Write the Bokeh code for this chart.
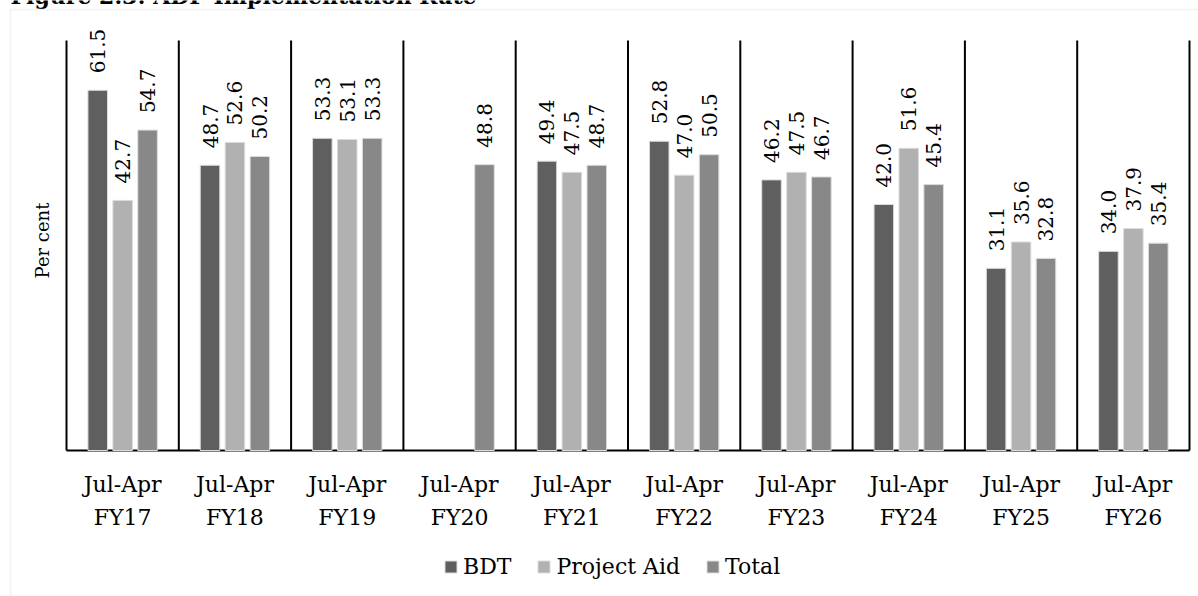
from bokeh.plotting import figure
from bokeh.models import (ColumnDataSource, Range1d, FixedTicker, Legend, LegendItem,
                          Label, PolyAnnotation)
from bokeh.core.properties import value
from bokeh.embed import file_html
from bokeh.resources import INLINE

# ADP implementation rate, July-April of each fiscal year (per cent)
periods = ["FY17", "FY18", "FY19", "FY20", "FY21", "FY22", "FY23", "FY24", "FY25", "FY26"]
tick_labels = ["Jul-Apr\n" + p for p in periods]
bdt = [61.5, 48.7, 53.3, None, 49.4, 52.8, 46.2, 42.0, 31.1, 34.0]
project_aid = [42.7, 52.6, 53.1, None, 47.5, 47.0, 47.5, 51.6, 35.6, 37.9]
total = [54.7, 50.2, 53.3, 48.8, 48.7, 50.5, 46.7, 45.4, 32.8, 35.4]

series = [
    ("BDT", bdt, "#5f5f5f", -0.222),
    ("Project Aid", project_aid, "#b1b1b1", 0.0),
    ("Total", total, "#888888", 0.222),
]

FONT = "DejaVu Serif"
W, H = 1198, 596

# plot area geometry (pixels): category band and value scale
AREA_LEFT, AREA_RIGHT, AREA_BOTTOM = 66, 1189, 450
Y_TOP = 70                      # the value axis runs 0..70
PX_PER_UNIT = 410 / Y_TOP
n = len(periods)
px_per_cat = (AREA_RIGHT - AREA_LEFT) / n

x_range = Range1d(-AREA_LEFT / px_per_cat, (W - AREA_LEFT) / px_per_cat)
y_range = Range1d(-(H - AREA_BOTTOM) / PX_PER_UNIT, AREA_BOTTOM / PX_PER_UNIT)

p = figure(
    width=W, height=H, x_range=x_range, y_range=y_range,
    output_backend="svg", toolbar_location=None,
    min_border=0, min_border_left=0, min_border_right=0, min_border_top=0, min_border_bottom=0,
)
p.xgrid.visible = False
p.ygrid.visible = False
p.outline_line_color = None
p.yaxis.visible = False

# x axis drawn on the zero line: two-line period labels, no ticks
centers = [i + 0.5 for i in range(n)]
p.xaxis.fixed_location = 0
p.xaxis.ticker = FixedTicker(ticks=centers)
p.xaxis.major_label_overrides = {c: lab for c, lab in zip(centers, tick_labels)}
p.xaxis.axis_line_color = None
p.xaxis.major_tick_line_color = None
p.xaxis.minor_tick_line_color = None
p.xaxis.major_label_standoff = 15
p.xaxis.major_label_text_font = FONT
p.xaxis.major_label_text_font_size = "22px"
p.xaxis.major_label_text_line_height = 1.32
p.xaxis.major_label_text_color = "black"

# period separators, left edge and baseline
edges = list(range(n + 1))
p.segment(x0=edges, y0=0, x1=edges, y1=Y_TOP, line_color="black", line_width=2)
p.segment(x0=[0], y0=[0], x1=[n], y1=[0], line_color="black", line_width=2)

legend_items = []
for name, vals, color, off in series:
    idx = [i for i, v in enumerate(vals) if v is not None]
    ys = [vals[i] for i in idx]
    src = ColumnDataSource(dict(x=[i + 0.5 + off for i in idx], top=ys,
                                label=[f"{v:.1f}" for v in ys]))
    r = p.vbar(x="x", top="top", bottom=0, width=0.174, source=src,
               fill_color=color, line_color="#dcdcdc", line_width=1)
    p.text(x="x", y="top", text="label", source=src,
           angle=1.5708, text_align="left", text_baseline="middle", y_offset=-17,
           text_font=value(FONT), text_font_size="20px", text_color="black")
    legend_items.append(LegendItem(label=name, renderers=[r]))

legend = Legend(items=legend_items, orientation="horizontal", location=(443, 17),
                glyph_width=15, glyph_height=15, label_standoff=5, spacing=25,
                padding=0, margin=0, border_line_alpha=0, background_fill_alpha=0,
                label_text_font=FONT, label_text_font_size="22px",
                label_text_color="black")
p.add_layout(legend, "center")

# value axis title
p.add_layout(Label(x=42, y=H - 240, x_units="screen", y_units="screen", text="Per cent",
                   angle=1.5708, text_align="center", text_baseline="middle",
                   text_font=FONT, text_font_size="18px", text_color="black"))

# figure heading, running off the top edge
p.add_layout(Label(x=10, y=H + 5, x_units="screen", y_units="screen",
                   text="Figure 2.3: ADP Implementation Rate", text_font=FONT,
                   text_font_style="bold", text_font_size="22px",
                   text_baseline="alphabetic", text_color="black"))

# light frame around the chart
p.add_layout(PolyAnnotation(xs=[10, 10, 1400, 1400], ys=[-100, H - 9, H - 9, -100],
                            xs_units="screen", ys_units="screen",
                            fill_alpha=0, line_color="#d9d9d9", line_width=2))

open("out.html", "w").write(file_html(p, INLINE))
